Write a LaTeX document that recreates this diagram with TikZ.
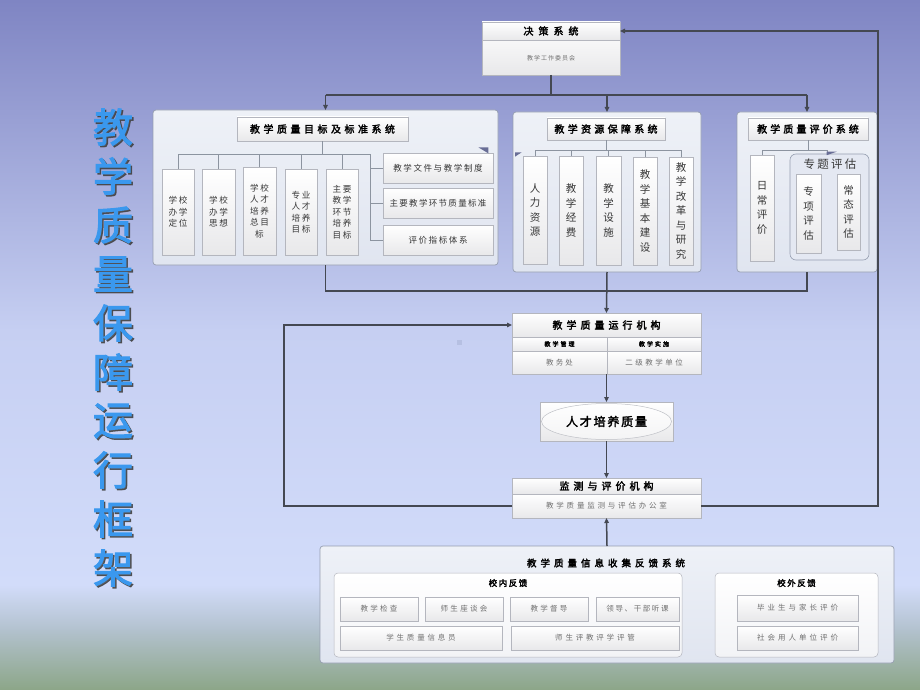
\documentclass[tikz,border=0pt]{standalone}
\usepackage{fontspec}
\newfontfamily\cjk{Noto Sans CJK SC}
\newfontfamily\cjkb[FakeBold=2.5]{Noto Sans CJK SC}
\usetikzlibrary{arrows.meta,shadows,calc}
\newcommand\fs[2]{\fontsize{#1}{#2}\selectfont}
\newlength\lsamt
\newcommand\ls[2]{\setlength\lsamt{#1}\lsa#2\relax}
\def\lsa#1{#1\lsb}
\def\lsb#1{\ifx#1\relax\else\hspace{\lsamt}#1\expandafter\lsb\fi}
\newcommand\pr[2]{#1\hspace{1.8pt}#2}
\newcommand\bx[7]{\node[#6, minimum width={(#4-#2)*1pt}, minimum height={(#5-#3)*1pt}] (#1) at ({(#2+#4)/2},{(#3+#5)/2}) {#7};}
\definecolor{bgA}{RGB}{127,133,195}
\definecolor{bgB}{RGB}{198,207,242}
\definecolor{bgC}{RGB}{210,220,250}
\definecolor{bgD}{RGB}{178,193,205}
\definecolor{bgE}{RGB}{140,166,136}
\definecolor{contD}{RGB}{150,158,176}
\definecolor{contT}{RGB}{238,241,247}
\definecolor{contBt}{RGB}{224,229,240}
\definecolor{ibB}{RGB}{232,232,234}
\definecolor{ibD}{RGB}{180,182,190}
\definecolor{connc}{RGB}{68,72,82}
\definecolor{treec}{RGB}{140,148,160}
\definecolor{txtd}{RGB}{55,55,55}
\definecolor{txtg}{RGB}{112,112,112}
\definecolor{ttlblue}{RGB}{58,152,238}
\definecolor{tric}{RGB}{105,110,150}
\begin{document}
\begin{tikzpicture}[x=1pt,y=-1pt,
  cont/.style={draw=contD, line width=0.7pt, rounded corners=3pt, top color=contT, bottom color=contBt, inner sep=0pt, outer sep=0pt},
  ib/.style={draw=ibD, line width=0.5pt, top color=white, bottom color=ibB, inner sep=0pt, outer sep=0pt, align=center, text=txtd, drop shadow={shadow xshift=1pt, shadow yshift=-1pt, opacity=0.3}},
  tb/.style={ib, font=\cjkb\fs{10}{12}, text=black},
  vb/.style={ib, font=\cjk\fs{10.5}{14.5}},
  sb/.style={ib, font=\cjk\fs{8.6}{11.5}},
  hb/.style={ib, font=\cjk\fs{8.5}{10}},
  gb/.style={ib, font=\cjk\fs{7.5}{9}, text=txtg},
  plain/.style={inner sep=0pt, outer sep=0pt, align=center},
  conn/.style={draw=connc, line width=1.5pt},
  arr/.style={conn, -{Triangle[length=5pt,width=4.5pt]}},
  tree/.style={draw=treec, line width=0.6pt},
  ttl/.style={plain, font=\cjkb\fs{40}{44}, text=ttlblue},
  ttlsh/.style={plain, font=\cjkb\fs{40}{44}, text=black!75, opacity=0.8}
]
\useasboundingbox (0,0) rectangle (920,690);
% background
\shade[top color=bgA, bottom color=bgB] (0,0) rectangle (920,331);
\shade[top color=bgB, bottom color=bgC] (0,330) rectangle (920,586);
\shade[top color=bgC, bottom color=bgD] (0,585) rectangle (920,631);
\shade[top color=bgD, bottom color=bgE] (0,630) rectangle (920,690);
\fill[fill={rgb,255:red,182;green,192;blue,226}] (457,340) rectangle (462,345);

% left title
\foreach \c [count=\i from 0] in {教,学,质,量,保,障,运,行,框,架} {
  \node[ttlsh] (ts\i) at (114.6,{128.6+49*\i}) {\c};
  \node[ttl] (t\i) at (113,{127+49*\i}) {\c};
}

% decision system
\bx{dec}{482}{22}{620}{75}{ib}{}
\bx{dect}{482}{22}{620}{40}{tb}{\ls{5pt}{决策系统}}
\node[plain, font=\cjk\fs{6}{7}, text=txtg] (decs) at (551,58) {\ls{1pt}{教学工作委员会}};

% goal container
\bx{goal}{153}{110}{498}{265}{cont}{}
\bx{g0}{237}{117}{408}{141}{tb}{\ls{3.5pt}{教学质量目标及标准系统}}
\bx{g1}{162}{169}{194}{255}{sb}{\pr{学}{校}\\\pr{办}{学}\\\pr{定}{位}}
\bx{g2}{202}{169}{235}{255}{sb}{\pr{学}{校}\\\pr{办}{学}\\\pr{思}{想}}
\bx{g3}{243}{167}{276}{255}{sb}{\pr{学}{校}\\\pr{人}{才}\\\pr{培}{养}\\\pr{总}{目}\\标}
\bx{g4}{285}{169}{317}{255}{sb}{\pr{专}{业}\\\pr{人}{才}\\\pr{培}{养}\\\pr{目}{标}}
\bx{g5}{326}{169}{358}{255}{sb}{\pr{主}{要}\\\pr{教}{学}\\\pr{环}{节}\\\pr{培}{养}\\\pr{目}{标}}
\bx{gr1}{383}{153}{493}{183}{hb}{\ls{1.6pt}{教学文件与教学制度}}
\bx{gr2}{383}{188}{493}{218}{hb}{\ls{1.3pt}{主要教学环节质量标准}}
\bx{gr3}{383}{225}{493}{255}{hb}{\ls{1.6pt}{评价指标体系}}
\coordinate (gh) at (0,154);
\coordinate (gv) at (370,154);
\draw[tree] (g0.south) -- (g0.south |- gh);
\draw[tree] (g1.north |- gh) -- (gv) -- (gv |- gr3.west) -- (gr3.west);
\draw[tree] (gv |- gr1.west) -- (gr1.west);
\draw[tree] (gv |- gr2.west) -- (gr2.west);
\foreach \n in {g1,g2,g3,g4,g5} \draw[tree] (\n.north |- gh) -- (\n.north);
\fill[tric] (478.3,147.3) -- (488.3,147.3) -- (488.3,153.3) -- cycle;

% resource container
\bx{res}{513}{112}{701}{272}{cont}{}
\bx{r0}{547}{118}{665}{140}{tb}{\ls{3.3pt}{教学资源保障系统}}
\bx{r1}{523}{156}{547}{264}{vb}{人\\力\\资\\源}
\bx{r2}{559}{156}{583}{265}{vb}{教\\学\\经\\费}
\bx{r3}{596}{156}{621}{265}{vb}{教\\学\\设\\施}
\bx{r4}{633}{157}{657}{265}{vb}{教\\学\\基\\本\\建\\设}
\bx{r5}{669}{157}{693}{265}{vb}{教\\学\\改\\革\\与\\研\\究}
\coordinate (rh) at (0,150);
\draw[tree] (r0.south) -- (r0.south |- rh);
\draw[tree] (r1.north |- rh) -- (r5.north |- rh);
\foreach \n in {r1,r2,r3,r4,r5} \draw[tree] (\n.north |- rh) -- (\n.north);
\fill[tric] (515,152.3) -- (521.7,152.3) -- (515,156.7) -- cycle;

% evaluation container
\bx{eva}{737}{112}{877}{272}{cont}{}
\bx{e0}{748}{118}{868}{140}{tb}{\ls{3.1pt}{教学质量评价系统}}
\bx{e1}{750}{155}{774}{261}{vb}{日\\常\\评\\价}
\node[draw=contD, line width=0.6pt, rounded corners=6pt, fill={rgb,255:red,228;green,232;blue,242}, inner sep=0pt, outer sep=0pt, minimum width=79pt, minimum height=106pt] (ez) at (829.5,207) {};
\node[plain, font=\cjk\fs{11.5}{12}, text=txtd] (ezl) at (830,164) {\ls{2.3pt}{专题评估}};
\bx{e2}{796}{174}{821}{253}{vb}{专\\项\\评\\估}
\bx{e3}{837}{174}{860}{250}{vb}{常\\态\\评\\估}
\coordinate (eh) at (0,150);
\coordinate (ev) at (827,150);
\draw[tree] (e0.south) -- (e0.south |- eh);
\draw[tree] (e1.north |- eh) -- (ev) -- (ev |- ez.north);
\draw[tree] (e1.north |- eh) -- (e1.north);
\fill[tric] (826.7,151.7) -- (836.7,151.7) -- (826.7,155.2) -- cycle;

% operation box
\bx{run}{512}{313}{701}{374}{ib}{}
\bx{runt}{512}{313}{701}{337}{tb}{\ls{4pt}{教学质量运行机构}}
\bx{runm}{512}{337}{607}{351}{ib}{}
\bx{runs}{607}{337}{701}{351}{ib}{}
\node[plain, font=\cjkb\fs{6}{7}, text=black] (runml) at (runm) {\ls{2pt}{教学管理}};
\node[plain, font=\cjkb\fs{6}{7}, text=black] (runsl) at (runs) {\ls{2pt}{教学实施}};
\bx{runa}{512}{351}{607}{374}{gb}{\ls{2.2pt}{教务处}}
\bx{runb}{607}{351}{701}{374}{gb}{\ls{2.5pt}{二级教学单位}}

% quality
\bx{qual}{540}{402}{673}{441}{ib}{}
\draw[draw={rgb,255:red,190;green,192;blue,198}, line width=0.5pt, fill=white, fill opacity=0.5] (qual.center) ellipse [x radius=65, y radius=18];
\node[plain, font=\cjkb\fs{12}{14}, text=black] (quall) at (qual) {\ls{1.8pt}{人才培养质量}};

% monitoring
\bx{mon}{512}{478}{701}{518}{ib}{}
\bx{mont}{512}{478}{701}{494}{tb}{\ls{4pt}{监测与评价机构}}
\bx{mons}{512}{494}{701}{518}{gb}{\ls{2.8pt}{教学质量监测与评估办公室}}

% feedback
\bx{fb}{320}{546}{894}{663}{cont}{}
\node[plain, font=\cjkb\fs{9.5}{11}, text=black] (fbt) at (606,563) {\ls{4pt}{教学质量信息收集反馈系统}};
\node[draw=ibD, line width=0.5pt, rounded corners=4pt, top color=white, bottom color={rgb,255:red,242;green,243;blue,246}, inner sep=0pt, outer sep=0pt, minimum width=348pt, minimum height=84pt] (fbi) at (508,615) {};
\node[draw=ibD, line width=0.5pt, rounded corners=4pt, top color=white, bottom color={rgb,255:red,242;green,243;blue,246}, inner sep=0pt, outer sep=0pt, minimum width=163pt, minimum height=84pt] (fbo) at (796.5,615) {};
\node[plain, font=\cjkb\fs{8.5}{10}, text=black] (fbil) at (508,583) {\ls{1.5pt}{校内反馈}};
\node[plain, font=\cjkb\fs{8.5}{10}, text=black] (fbol) at (796.5,583) {\ls{1.5pt}{校外反馈}};
\bx{fb1}{340}{597}{418}{621}{gb}{\ls{2.3pt}{教学检查}}
\bx{fb2}{425}{597}{503}{621}{gb}{\ls{2.3pt}{师生座谈会}}
\bx{fb3}{510}{597}{588}{621}{gb}{\ls{2.3pt}{教学督导}}
\bx{fb4}{596}{597}{679}{621}{gb}{\ls{1.6pt}{领导、干部听课}}
\bx{fb5}{340}{626}{502}{650}{gb}{\ls{2.8pt}{学生质量信息员}}
\bx{fb6}{511}{626}{679}{650}{gb}{\ls{2.8pt}{师生评教评学评管}}
\bx{fo1}{737}{595}{858}{621}{gb}{\ls{3pt}{毕业生与家长评价}}
\bx{fo2}{737}{626}{858}{650}{gb}{\ls{3pt}{社会用人单位评价}}

% connectors
\coordinate (j1) at ($(dec.south)+(0,20)$);
\draw[conn] (dec.south) -- (j1);
\draw[conn] (j1 -| goal.north) -- (j1 -| eva.north);
\draw[arr] (j1 -| goal.north) -- (goal.north);
\draw[arr] (j1 -| res.north) -- (res.north);
\draw[arr] (j1 -| eva.north) -- (eva.north);
\coordinate (j2) at (0,291);
\draw[conn] (goal.south) -- (goal.south |- j2) -- (eva.south |- j2) -- (eva.south);
\draw[arr] (res.south) -- (runt.north);
\draw[arr] (run.south) -- (qual.north);
\draw[arr] (qual.south) -- (mont.north);
\draw[arr] (fb.north) -- (mons.south);
\draw[arr] (mons.west) -- ++(-228,0) |- (runt.west);
\draw[arr] (mons.east) -- ++(177,0) |- (dect.east);
\end{tikzpicture}
\end{document}
